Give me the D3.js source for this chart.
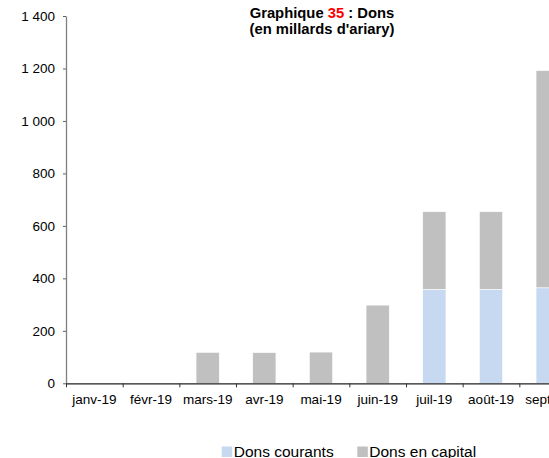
<!DOCTYPE html>
<html>
<head>
<meta charset="utf-8">
<script src="https://cdn.jsdelivr.net/npm/d3@7"></script>
<style>
  body { margin: 0; background: #fff; }
  svg { display: block; font-family: "Liberation Sans", Arial, sans-serif; }
  .axis text { font-size: 13.5px; fill: #000; }
</style>
</head>
<body>
<svg id="chart" width="549" height="458"></svg>
<script>
var months = ["janv-19", "févr-19", "mars-19", "avr-19", "mai-19", "juin-19", "juil-19", "août-19", "sept-19"];
var donsCourants = [0, 0, 0, 0, 0, 0, 358, 358, 364];
var donsCapital = [0, 0, 118, 117, 119, 298, 296, 296, 828];
var yTicks = [0, 200, 400, 600, 800, 1000, 1200, 1400];
var seriesNames = ["Dons courants", "Dons en capital"];
var seriesColors = ["#c6d9f1", "#c0c0c0"];

var plotLeft = 66, plotRight = 576, plotTop = 16, plotBottom = 383.3;

var svg = d3.select("#chart");

var fr = d3.formatLocale({decimal: ",", thousands: "\u00a0", grouping: [3], currency: ["", ""]});
var fmt = fr.format(",d");

var x = d3.scaleBand()
    .domain(months)
    .range([plotLeft, plotRight])
    .padding(0);

var xEdges = d3.scaleLinear()
    .domain([0, months.length])
    .range([plotLeft, plotRight]);

var y = d3.scaleLinear()
    .domain([0, 1400])
    .range([plotBottom, plotTop]);

var data = months.map(function(m, i) {
  return {month: m, "Dons courants": donsCourants[i], "Dons en capital": donsCapital[i]};
});

var stacked = d3.stack().keys(seriesNames)(data);

var barW = x.bandwidth() * 0.41;

// bars
svg.append("g").selectAll("g")
    .data(stacked)
  .enter().append("g")
    .attr("fill", function(d, i) { return seriesColors[i]; })
  .selectAll("rect")
    .data(function(d) { return d.filter(function(p) { return p[1] - p[0] > 0; }); })
  .enter().append("rect")
    .attr("x", function(d) { return x(d.data.month) + (x.bandwidth() - barW) / 2; })
    .attr("y", function(d) { return y(d[1]); })
    .attr("width", barW)
    .attr("height", function(d) { return y(d[0]) - y(d[1]); })
    .attr("stroke", "#fff")
    .attr("stroke-width", 0.6);

// y axis
var yAxis = svg.append("g")
    .attr("class", "axis")
    .attr("transform", "translate(" + plotLeft + ",0)")
    .call(d3.axisLeft(y).tickValues(yTicks).tickFormat(fmt).tickSize(3).tickSizeOuter(0).tickPadding(8));
yAxis.select(".domain").attr("stroke", "#808080").attr("stroke-width", 1.3);
yAxis.selectAll(".tick line").attr("stroke", "#606060");

// x axis: tick marks between categories
var xTickAxis = svg.append("g")
    .attr("transform", "translate(0," + plotBottom + ")")
    .call(d3.axisBottom(xEdges).tickValues(d3.range(months.length + 1)).tickFormat("").tickSize(4).tickSizeOuter(0));
xTickAxis.select(".domain").attr("stroke", "#222").attr("stroke-width", 1.3);
xTickAxis.selectAll(".tick line").attr("stroke", "#333");

// x axis labels
var xAxis = svg.append("g")
    .attr("class", "axis")
    .attr("transform", "translate(0," + plotBottom + ")")
    .call(d3.axisBottom(x).tickSize(0).tickPadding(11));
xAxis.select(".domain").remove();

// title
var title = svg.append("text")
    .attr("x", 322)
    .attr("y", 18.3)
    .attr("text-anchor", "middle")
    .style("font-weight", "bold")
    .style("font-size", "14.8px");
title.append("tspan").text("Graphique ");
title.append("tspan").attr("fill", "#ff0000").text("35");
title.append("tspan").text(" : Dons");
svg.append("text")
    .attr("x", 322)
    .attr("y", 34.3)
    .attr("text-anchor", "middle")
    .style("font-weight", "bold")
    .style("font-size", "14.8px")
    .text("(en millards d'ariary)");

// legend
var legendX = [221.7, 357.3];
var legend = svg.append("g").selectAll("g")
    .data(seriesNames)
  .enter().append("g")
    .attr("transform", function(d, i) { return "translate(" + legendX[i] + ",446.5)"; });
legend.append("rect")
    .attr("width", 10.5)
    .attr("height", 10.5)
    .attr("fill", function(d, i) { return seriesColors[i]; });
legend.append("text")
    .attr("x", 12)
    .attr("y", 10.5)
    .style("font-size", "15.5px")
    .text(function(d) { return d; });
</script>
</body>
</html>
